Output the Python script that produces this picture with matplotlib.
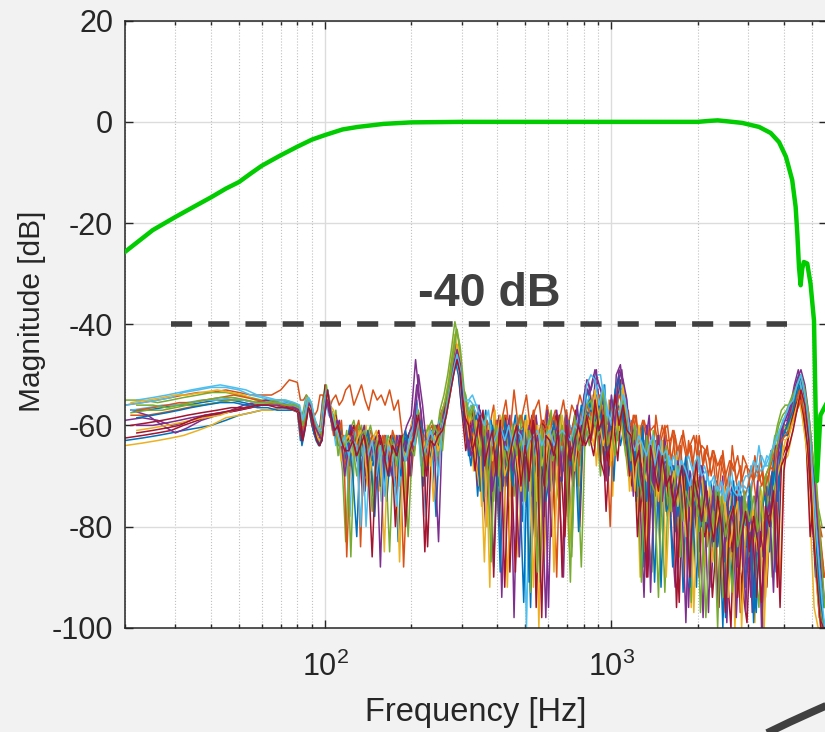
import matplotlib.pyplot as plt
from matplotlib.lines import Line2D
from matplotlib.ticker import LogLocator, NullFormatter

# frequency grids of the measured spectra [Hz] (three runs, bins slightly offset)
freq_a = [
    20, 23, 26, 29, 32, 36, 40, 45, 50, 55,
    60, 65, 70, 75, 80, 82, 84, 86, 88, 90,
    92, 94, 96, 98, 100, 103, 106, 109, 112, 115,
    118, 122, 126, 130, 134, 138, 142, 147, 152, 157,
    162, 168, 174, 180, 186, 193, 200, 207, 214, 221,
    228, 236, 244, 252, 260, 268, 276, 284, 292, 300,
    310, 320, 330, 341, 352, 364, 376, 388, 400, 414,
    428, 442, 457, 472, 488, 505, 522, 540, 558, 577,
    596, 616, 637, 658, 680, 703, 727, 751, 776, 802,
    829, 857, 886, 916, 947, 979, 1010, 1040, 1075, 1110,
    1145, 1180, 1220, 1260, 1300, 1340, 1385, 1430, 1475, 1520,
    1570, 1620, 1670, 1725, 1780, 1840, 1900, 1960, 2025, 2090,
    2160, 2230, 2300, 2375, 2450, 2530, 2615, 2700, 2790, 2880,
    2975, 3070, 3170, 3275, 3380, 3490, 3605, 3720, 3840, 3965,
    4090, 4220, 4355, 4495, 4640, 4790, 4945, 5105, 5270, 5440,
]
freq_b = [
    21, 24, 27, 30, 33, 37, 42, 47, 52, 57,
    62, 67, 72, 77, 81, 83, 85, 87, 89, 91,
    93, 95, 97, 99, 101, 104, 107, 110, 113, 116,
    119, 123, 127, 131, 135, 139, 144, 149, 154, 159,
    164, 170, 176, 182, 188, 195, 202, 209, 216, 223,
    231, 239, 247, 255, 263, 271, 279, 287, 295, 303,
    313, 323, 334, 345, 356, 368, 380, 392, 405, 419,
    433, 447, 462, 477, 494, 511, 528, 546, 564, 583,
    603, 623, 644, 665, 688, 711, 735, 759, 785, 811,
    838, 867, 896, 926, 958, 990, 1020, 1052, 1087, 1122,
    1157, 1193, 1233, 1273, 1313, 1355, 1400, 1445, 1490, 1537,
    1587, 1637, 1688, 1743, 1800, 1860, 1920, 1982, 2047, 2113,
    2183, 2253, 2325, 2400, 2477, 2558, 2643, 2730, 2820, 2912,
    3007, 3103, 3205, 3310, 3417, 3528, 3643, 3760, 3882, 4006,
    4133, 4265, 4402, 4543, 4690, 4841, 4998, 5160, 5327, 5500,
]
freq_c = [
    22, 25, 28, 31, 34, 38, 43, 48, 53, 58,
    63, 68, 73, 78, 81.5, 83.5, 85.5, 87.5, 89.5, 91.5,
    93.5, 95.5, 97.5, 99.5, 102, 105, 108, 111, 114, 117,
    121, 125, 129, 133, 137, 141, 146, 151, 156, 161,
    166, 172, 178, 184, 191, 198, 205, 212, 219, 226,
    233, 241, 249, 257, 265, 273, 281, 289, 297, 306,
    317, 327, 337, 348, 360, 372, 384, 396, 409, 424,
    438, 452, 467, 483, 500, 516, 534, 552, 571, 590,
    609, 630, 651, 673, 696, 719, 743, 768, 794, 820,
    848, 876, 906, 937, 968, 1000, 1030, 1063, 1098, 1133,
    1169, 1207, 1247, 1287, 1327, 1370, 1415, 1460, 1505, 1553,
    1603, 1653, 1707, 1762, 1820, 1880, 1940, 2003, 2068, 2137,
    2207, 2277, 2350, 2425, 2503, 2587, 2672, 2760, 2850, 2943,
    3038, 3137, 3240, 3345, 3453, 3567, 3682, 3800, 3923, 4048,
    4177, 4310, 4448, 4592, 4740, 4894, 5050, 5215, 5385, 5560,
]

# crosstalk magnitudes [dB], one list per measured channel
meas_01 = [
    -63, -62.5, -62, -61.5, -61, -60.5, -60, -59, -58, -57.5,
    -57, -57, -56.5, -56.5, -57, -63, -60, -56, -57, -60,
    -62, -63, -62, -57, -53, -56, -60, -59, -64, -62,
    -65, -60, -62, -66, -62, -70, -64, -68, -63, -72,
    -65, -70, -63, -83, -64, -62, -66, -60, -63, -72,
    -64, -62, -78, -60, -57, -54, -50, -47, -50, -57,
    -58, -66, -61, -74, -63, -57, -70, -88, -64, -60,
    -72, -61, -67, -59, -79, -65, -96, -62, -70, -66,
    -60, -73, -64, -58, -69, -62, -84, -59, -65, -56,
    -53, -61, -57, -66, -52, -70, -58, -55, -64, -60,
    -68, -59, -75, -64, -88, -62, -72, -66, -80, -63,
    -74, -66, -81, -70, -93, -68, -77, -72, -85, -69,
    -80, -71, -88, -76, -100, -73, -82, -78, -90, -74,
    -84, -75, -96, -79, -86, -72, -80, -66, -73, -62,
    -62, -58, -55, -53, -56, -62, -72, -80, -88, -95,
]
meas_02 = [
    -56, -55.5, -55, -54.5, -54, -53.5, -53.5, -53, -53.5, -54,
    -54, -54, -53, -51, -51.5, -55, -55, -54, -55, -57,
    -58, -57, -54, -54, -55, -57, -55, -54, -56, -55,
    -53, -52, -56, -54, -52, -55, -57, -53, -55, -54,
    -56, -53, -57, -55, -62, -64, -60, -56, -58, -66,
    -62, -60, -63, -58, -56, -53, -49, -45, -49, -55,
    -57, -59, -56, -62, -58, -64, -60, -56, -66, -59,
    -55, -62, -53, -60, -58, -54, -61, -57, -55, -62,
    -56, -60, -57, -59, -55, -61, -56, -58, -54, -57,
    -55, -57, -56, -54, -57, -59, -56, -55, -57, -58,
    -57, -63, -58, -66, -59, -62, -70, -58, -64, -61,
    -60, -67, -62, -71, -61, -66, -64, -73, -62, -68,
    -64, -70, -66, -74, -65, -72, -67, -69, -75, -66,
    -68, -74, -66, -71, -69, -76, -65, -67, -62, -60,
    -60, -58, -56, -54, -57, -60, -66, -72, -78, -82,
]
meas_03 = [
    -64, -63.5, -63, -62.5, -62, -61, -60, -58.5, -58, -57.5,
    -57, -57, -56.5, -56.5, -57, -62, -60, -55.5, -56.5, -60,
    -61, -62, -61, -56, -53, -57, -58, -62, -60, -66,
    -70, -62, -60, -65, -68, -63, -71, -65, -69, -64,
    -66, -63, -68, -62, -65, -76, -62, -57, -61, -70,
    -60, -64, -62, -59, -56, -52, -47, -42, -46, -54,
    -63, -57, -69, -60, -76, -62, -92, -58, -67, -71,
    -60, -74, -63, -86, -66, -58, -72, -64, -100, -61,
    -67, -59, -78, -63, -61, -75, -66, -57, -72, -55,
    -60, -54, -68, -57, -63, -55, -74, -52, -59, -64,
    -61, -73, -66, -90, -63, -78, -65, -70, -84, -67,
    -69, -78, -65, -86, -73, -70, -96, -67, -80, -74,
    -76, -83, -72, -95, -78, -86, -74, -100, -79, -84,
    -88, -77, -99, -74, -82, -79, -70, -85, -68, -64,
    -65, -60, -57, -54, -58, -64, -78, -96, -100, -100,
]
meas_04 = [
    -59, -58.5, -59, -60, -59.5, -58.5, -58, -57.5, -57, -56.5,
    -56, -55.5, -55.5, -56, -56.5, -61, -59, -55, -56, -59,
    -60, -61, -60, -55, -53, -55, -58, -61, -59, -63,
    -62, -68, -61, -60, -66, -64, -62, -74, -66, -63,
    -63, -66, -64, -66, -63, -60, -58, -47, -55, -63,
    -66, -61, -60, -62, -58, -54, -48, -44, -47, -56,
    -60, -64, -58, -72, -66, -80, -61, -69, -59, -94,
    -66, -58, -98, -63, -75, -60, -68, -82, -62, -71,
    -57, -69, -62, -74, -90, -60, -66, -58, -63, -54,
    -51, -57, -49, -62, -67, -58, -64, -50, -48, -56,
    -62, -70, -60, -76, -94, -65, -71, -63, -79, -68,
    -66, -80, -92, -71, -75, -68, -84, -72, -78, -98,
    -73, -92, -77, -82, -70, -99, -76, -85, -72, -88,
    -81, -94, -74, -86, -100, -76, -71, -80, -64, -60,
    -60, -56, -52, -49, -53, -60, -68, -76, -85, -92,
]
meas_05 = [
    -55, -55, -55.5, -55, -54.5, -54, -53.5, -53.5, -54, -54.5,
    -55, -55, -55.5, -55.5, -56, -59, -57, -54, -55, -58,
    -59, -60, -61, -56, -52, -56, -61, -57, -63, -69,
    -83, -61, -59, -63, -60, -66, -63, -62, -70, -66,
    -64, -85, -62, -64, -70, -63, -61, -58, -64, -61,
    -61, -59, -63, -57, -54, -50, -45, -39.5, -43, -52,
    -54, -59, -56, -63, -70, -58, -66, -75, -61, -64,
    -68, -60, -74, -64, -58, -71, -93, -62, -78, -66,
    -63, -57, -70, -76, -60, -66, -86, -61, -68, -59,
    -62, -56, -60, -70, -55, -65, -59, -61, -57, -63,
    -70, -64, -60, -73, -67, -80, -89, -66, -74, -69,
    -76, -71, -68, -83, -72, -78, -95, -73, -81, -70,
    -84, -76, -80, -73, -94, -79, -86, -75, -91, -77,
    -79, -72, -87, -96, -76, -70, -74, -64, -60, -58,
    -57, -55, -53, -51, -52, -57, -64, -70, -76, -80,
]
meas_06 = [
    -56, -55.5, -55, -54.5, -53.5, -53, -52.5, -52.5, -53, -54,
    -54.5, -55, -55, -55.5, -56, -60, -58, -54.5, -55.5, -58.5,
    -60, -61, -62, -57, -54, -58, -59, -64, -61, -64,
    -64, -78, -63, -61, -64, -62, -68, -64, -62, -75,
    -68, -63, -66, -62, -64, -67, -63, -56, -62, -78,
    -63, -66, -61, -59, -57, -53, -49, -46, -48, -55,
    -57, -55, -56, -56, -58, -62, -59, -61, -75, -62,
    -63, -61, -66, -63, -62, -100, -62, -66, -61, -63,
    -64, -61, -60, -62, -63, -59, -61, -63, -58, -56,
    -55, -52, -50, -50, -56, -59, -55, -57, -53, -56,
    -61, -67, -60, -70, -63, -74, -64, -69, -62, -72,
    -66, -73, -68, -64, -76, -67, -72, -70, -65, -78,
    -69, -75, -70, -78, -72, -80, -68, -74, -71, -77,
    -73, -68, -70, -64, -69, -66, -67, -62, -63, -59,
    -58, -57, -54, -50, -53, -61, -70, -78, -90, -98,
]
meas_07 = [
    -62.5, -62, -61.5, -61, -60, -59, -58, -57.5, -57, -56.5,
    -56, -56, -56, -56.5, -57, -62, -60, -56, -57, -60,
    -62, -63, -64, -58, -52, -57, -60, -58, -62, -65,
    -66, -62, -60, -68, -63, -73, -62, -66, -64, -68,
    -62, -67, -72, -65, -62, -64, -70, -59, -60, -65,
    -84, -62, -64, -60, -58, -55, -50, -46, -49, -57,
    -65, -60, -57, -71, -62, -74, -59, -90, -66, -68,
    -58, -89, -63, -70, -61, -76, -60, -67, -73, -59,
    -62, -82, -66, -58, -63, -78, -61, -57, -80, -56,
    -58, -62, -54, -67, -70, -59, -63, -57, -51, -62,
    -66, -72, -64, -77, -69, -90, -68, -74, -65, -71,
    -78, -70, -75, -95, -68, -80, -72, -76, -90, -73,
    -82, -75, -84, -96, -77, -88, -100, -74, -86, -93,
    -99, -80, -77, -85, -79, -92, -75, -72, -70, -66,
    -64, -60, -56, -52, -55, -63, -82, -74, -86, -100,
]
meas_08 = [
    -57, -57, -56.5, -56, -56, -55.5, -55, -55, -55.5, -56,
    -56, -56, -56.5, -57, -57.5, -64, -61, -56.5, -57.5, -61,
    -63, -64, -63, -58, -53, -56, -59, -62, -60, -63,
    -63, -60, -64, -62, -70, -62, -65, -78, -63, -65,
    -75, -64, -63, -68, -65, -62, -60, -55, -66, -63,
    -62, -63, -60, -61, -57, -53, -49, -47, -51, -58,
    -62, -68, -60, -57, -75, -63, -59, -66, -72, -61,
    -70, -63, -58, -69, -95, -61, -74, -59, -66, -78,
    -67, -60, -58, -71, -64, -59, -70, -62, -56, -63,
    -55, -59, -62, -53, -66, -60, -71, -56, -58, -54,
    -71, -63, -74, -60, -69, -67, -76, -62, -92, -70,
    -72, -88, -74, -69, -79, -71, -76, -92, -68, -81,
    -77, -84, -71, -80, -87, -76, -92, -82, -73, -85,
    -78, -88, -97, -75, -83, -74, -69, -89, -66, -61,
    -62, -60, -55, -52, -57, -64, -74, -90, -82, -96,
]
meas_09 = [
    -58, -58, -57.5, -57, -56.5, -56, -55.5, -55, -55, -55.5,
    -55.5, -55.5, -56, -56, -56.5, -61, -59, -55, -56, -59,
    -60, -61, -61, -56, -54, -57, -62, -60, -65, -62,
    -86, -64, -62, -59, -64, -67, -61, -63, -66, -62,
    -64, -62, -70, -63, -88, -66, -62, -57, -63, -67,
    -65, -60, -68, -58, -56, -52, -48, -44, -48, -54,
    -62, -58, -66, -61, -60, -59, -66, -62, -60, -64,
    -62, -59, -64, -61, -60, -65, -62, -59, -66, -61,
    -60, -63, -90, -60, -62, -64, -60, -72, -62, -59,
    -61, -59, -55, -57, -60, -80, -58, -57, -56, -60,
    -64, -58, -67, -61, -70, -60, -66, -63, -72, -60,
    -66, -61, -70, -64, -74, -63, -68, -62, -71, -65,
    -70, -65, -73, -67, -70, -76, -64, -71, -68, -74,
    -72, -68, -75, -66, -73, -70, -67, -64, -66, -61,
    -60, -57, -55, -53, -56, -62, -70, -76, -80, -88,
]
meas_10 = [
    -55.5, -55, -54.5, -54, -54, -53.5, -53, -53.5, -54, -55,
    -55.5, -56, -56, -56, -56.5, -60, -58, -54.5, -55.5, -58,
    -60, -61, -60, -55, -53, -56, -57, -60, -62, -67,
    -62, -65, -66, -61, -62, -60, -69, -62, -73, -64,
    -66, -68, -62, -87, -63, -64, -59, -58, -62, -64,
    -61, -75, -62, -60, -57, -54, -49, -45, -47, -55,
    -61, -58, -66, -72, -59, -80, -64, -57, -70, -62,
    -92, -66, -60, -71, -64, -59, -68, -75, -61, -87,
    -60, -64, -59, -70, -62, -84, -67, -60, -63, -61,
    -59, -64, -58, -56, -63, -68, -55, -62, -53, -60,
    -73, -62, -68, -65, -85, -71, -63, -76, -66, -74,
    -70, -77, -66, -75, -90, -73, -79, -69, -77, -88,
    -79, -87, -75, -82, -72, -94, -81, -78, -89, -74,
    -83, -76, -90, -79, -100, -77, -73, -71, -91, -67,
    -66, -62, -58, -55, -60, -66, -75, -84, -98, -100,
]
meas_11 = [
    -57, -58, -60, -61.5, -60.5, -59, -58, -57, -56, -55.5,
    -55, -55.5, -55.5, -56, -56.5, -62, -59.5, -55.5, -56.5, -59.5,
    -61, -62, -62, -57, -54, -58, -61, -59, -61, -64,
    -67, -60, -63, -65, -61, -65, -63, -67, -62, -70,
    -63, -64, -66, -62, -67, -62, -60, -52, -57, -66,
    -63, -62, -61, -59, -56, -52, -47, -44.5, -48, -56,
    -59, -66, -63, -56, -69, -60, -74, -65, -58, -72,
    -61, -65, -70, -86, -60, -73, -64, -58, -69, -63,
    -96, -63, -57, -68, -61, -65, -72, -56, -64, -52,
    -54, -50, -53, -58, -71, -55, -62, -52, -49, -57,
    -59, -74, -61, -69, -64, -58, -73, -67, -78, -62,
    -76, -68, -79, -72, -70, -96, -74, -80, -68, -75,
    -97, -73, -82, -78, -86, -75, -72, -98, -80, -91,
    -74, -97, -82, -84, -73, -77, -70, -64, -66, -59,
    -59, -56, -53, -50, -54, -58, -66, -74, -82, -90,
]
meas_12 = [
    -57.5, -57, -57, -56.5, -56, -56, -55.5, -55, -55, -55.5,
    -55.5, -55, -55, -55.5, -56, -60, -58, -55, -56, -59,
    -60, -61, -61, -56, -52, -57, -58, -63, -60, -65,
    -61, -86, -62, -60, -66, -63, -60, -64, -68, -63,
    -70, -63, -64, -66, -62, -82, -63, -57, -64, -62,
    -60, -64, -66, -58, -55, -51, -46, -41, -44, -53,
    -56, -58, -61, -66, -60, -64, -87, -62, -68, -58,
    -63, -71, -62, -58, -66, -61, -73, -60, -91, -64,
    -59, -67, -64, -58, -70, -61, -63, -66, -88, -60,
    -64, -58, -62, -60, -65, -56, -61, -63, -59, -66,
    -62, -66, -70, -91, -64, -75, -61, -68, -72, -93,
    -68, -77, -73, -86, -70, -82, -75, -71, -97, -78,
    -75, -80, -72, -86, -78, -83, -93, -77, -85, -73,
    -86, -80, -83, -72, -79, -74, -90, -65, -61, -60,
    -61, -58, -54, -51, -55, -60, -70, -82, -94, -100,
]
meas_13 = [
    -57, -56.5, -56, -56, -55.5, -55, -55, -54.5, -55, -55.5,
    -55.5, -55.5, -55.5, -56, -56.5, -61, -59, -55, -56, -59,
    -61, -62, -61, -56, -53, -56, -60, -61, -66, -63,
    -68, -63, -61, -64, -62, -80, -64, -62, -65, -67,
    -62, -66, -63, -72, -64, -63, -61, -56, -68, -65,
    -62, -61, -62, -60, -58, -54, -50, -47, -50, -57,
    -58, -56, -57, -59, -61, -64, -60, -66, -62, -63,
    -65, -61, -62, -64, -61, -63, -62, -65, -62, -64,
    -63, -60, -61, -65, -61, -62, -66, -59, -60, -54,
    -58, -55, -52, -53, -58, -57, -60, -55, -52, -55,
    -62, -66, -64, -63, -67, -64, -62, -66, -65, -67,
    -66, -69, -67, -70, -68, -66, -69, -67, -70, -68,
    -71, -74, -72, -73, -75, -72, -74, -72, -74, -72,
    -73, -71, -70, -69, -68, -68, -65, -63, -61, -59,
    -57, -55, -53, -51, -55, -62, -72, -80, -86, -94,
]
meas_14 = [
    -60, -59.5, -59, -58.5, -58, -57.5, -57, -56.5, -56.5, -56,
    -56, -56, -56, -56.5, -57, -63, -60.5, -56, -57, -60,
    -62, -63, -62, -57, -54, -57, -59, -60, -62, -66,
    -64, -61, -65, -62, -74, -62, -66, -63, -61, -68,
    -65, -62, -80, -63, -66, -62, -64, -58, -62, -85,
    -64, -63, -60, -61, -57, -53, -49, -46, -49, -56,
    -64, -60, -69, -62, -57, -70, -66, -61, -80, -63,
    -60, -67, -89, -64, -70, -62, -58, -96, -66, -72,
    -65, -61, -58, -67, -82, -62, -70, -66, -60, -64,
    -62, -66, -59, -57, -77, -63, -60, -67, -56, -61,
    -70, -61, -82, -68, -66, -73, -77, -64, -71, -69,
    -74, -70, -96, -75, -68, -79, -74, -67, -78, -82,
    -79, -94, -83, -75, -81, -78, -85, -73, -97, -84,
    -84, -79, -94, -81, -86, -78, -77, -72, -96, -69,
    -63, -59, -56, -54, -58, -64, -76, -88, -98, -100,
]
meas_15 = [
    -58.5, -58, -57.5, -57, -56.5, -56, -55.5, -55.5, -56, -56.5,
    -56.5, -57, -57, -57, -57.5, -62, -59, -56, -57, -60,
    -62, -64, -63, -58, -54, -58, -61, -64, -61, -67,
    -63, -70, -82, -62, -65, -61, -67, -63, -72, -66,
    -67, -62, -65, -70, -61, -66, -64, -58, -61, -69,
    -66, -63, -64, -62, -58, -54, -50, -46, -49, -56,
    -66, -61, -58, -73, -62, -68, -60, -64, -89, -59,
    -63, -72, -60, -65, -58, -91, -67, -70, -62, -75,
    -70, -59, -65, -62, -57, -68, -60, -81, -63, -58,
    -57, -60, -55, -63, -65, -61, -53, -50, -59, -63,
    -69, -65, -72, -60, -75, -67, -91, -70, -63, -77,
    -75, -68, -78, -72, -66, -92, -76, -73, -80, -71,
    -81, -74, -84, -77, -98, -80, -71, -86, -78, -92,
    -72, -99, -82, -76, -74, -85, -67, -75, -63, -61,
    -59, -57, -53, -50, -54, -61, -70, -85, -95, -100,
]
meas_16 = [
    -57, -56.5, -56, -55.5, -55.5, -55, -54.5, -54, -54.5, -55,
    -55.5, -56, -56, -56.5, -57, -61, -59, -55.5, -56.5, -59,
    -61, -62, -62, -57, -53, -57, -60, -63, -59, -68,
    -65, -62, -60, -84, -63, -66, -62, -64, -67, -62,
    -68, -61, -64, -63, -78, -62, -65, -60, -62, -68,
    -62, -67, -60, -63, -57, -53, -48, -45, -48, -55,
    -60, -62, -61, -58, -62, -60, -70, -59, -64, -58,
    -59, -63, -60, -58, -61, -62, -57, -63, -59, -60,
    -61, -58, -62, -64, -57, -62, -59, -61, -57, -56,
    -58, -56, -54, -58, -61, -62, -57, -54, -56, -59,
    -60, -58, -62, -59, -63, -61, -60, -64, -60, -63,
    -63, -61, -65, -62, -66, -64, -62, -67, -64, -65,
    -67, -65, -68, -66, -70, -67, -69, -66, -71, -68,
    -69, -71, -68, -72, -70, -68, -69, -65, -63, -62,
    -61, -59, -57, -55, -58, -62, -68, -75, -84, -90,
]
meas_17 = [
    -61, -60.5, -60, -59.5, -59, -58.5, -58, -57, -56.5, -56,
    -56, -56, -56.5, -57, -57.5, -62, -60, -56, -57, -60,
    -62, -63, -62, -57, -54, -57, -59, -62, -67, -63,
    -62, -66, -63, -61, -64, -72, -63, -61, -66, -85,
    -63, -67, -62, -64, -66, -63, -62, -59, -65, -62,
    -68, -62, -65, -61, -58, -54, -49, -44, -47, -55,
    -62, -65, -59, -64, -87, -60, -67, -63, -58, -70,
    -67, -61, -66, -73, -59, -65, -92, -60, -68, -64,
    -60, -89, -63, -58, -66, -62, -69, -61, -64, -58,
    -61, -53, -59, -64, -60, -67, -55, -61, -52, -60,
    -62, -73, -60, -68, -71, -64, -66, -75, -63, -90,
    -73, -69, -76, -70, -82, -71, -97, -74, -70, -79,
    -72, -82, -78, -74, -76, -84, -79, -75, -100, -80,
    -81, -77, -85, -73, -94, -80, -76, -70, -67, -63,
    -62, -59, -56, -53, -56, -63, -74, -92, -100, -100,
]
meas_18 = [
    -60, -60, -59.5, -59, -58.5, -58, -57.5, -57, -56.5, -56,
    -56, -56, -56.5, -56.5, -57, -62, -60, -55.5, -56.5, -60,
    -61, -62, -63, -58, -55, -58, -62, -60, -63, -70,
    -64, -62, -67, -63, -60, -68, -64, -63, -88, -64,
    -66, -70, -62, -65, -63, -70, -60, -50, -56, -64,
    -62, -65, -83, -60, -57, -53, -48, -45, -48, -57,
    -65, -59, -63, -57, -66, -61, -73, -68, -60, -64,
    -59, -69, -63, -61, -72, -60, -66, -62, -71, -98,
    -66, -62, -60, -71, -58, -64, -66, -59, -62, -51,
    -53, -49, -52, -55, -63, -54, -60, -49, -51, -55,
    -66, -63, -69, -73, -60, -93, -70, -62, -75, -68,
    -71, -78, -67, -74, -99, -69, -73, -77, -68, -73,
    -80, -72, -96, -76, -83, -77, -79, -88, -74, -97,
    -77, -82, -71, -100, -80, -75, -93, -67, -61, -59,
    -57, -54, -51, -49, -52, -58, -66, -78, -88, -95,
]
meas_19 = [
    -56, -56, -56.5, -56, -55.5, -55, -54.5, -54.5, -55, -55.5,
    -55.5, -55.5, -56, -56, -56.5, -60, -58, -54.5, -55.5, -58.5,
    -60, -61, -62, -57, -53, -57, -59, -66, -62, -64,
    -63, -64, -70, -62, -61, -64, -77, -63, -66, -65,
    -62, -64, -68, -63, -67, -64, -66, -57, -70, -63,
    -64, -60, -62, -65, -56, -51, -46, -41, -45, -53,
    -58, -56, -62, -66, -59, -71, -63, -60, -73, -65,
    -69, -60, -66, -63, -75, -61, -64, -89, -60, -72,
    -64, -61, -68, -60, -66, -91, -58, -65, -61, -56,
    -55, -60, -58, -53, -64, -61, -66, -59, -55, -60,
    -67, -60, -70, -75, -62, -71, -73, -94, -68, -64,
    -77, -72, -68, -79, -73, -76, -70, -78, -74, -98,
    -83, -77, -100, -74, -82, -78, -76, -84, -80, -75,
    -79, -74, -81, -77, -70, -68, -64, -60, -57, -56,
    -56, -54, -52, -50, -53, -58, -66, -72, -84, -96,
]
meas_20 = [
    -55, -54.5, -54, -53.5, -53, -52.5, -52, -52.5, -53, -54,
    -54.5, -55, -55, -55.5, -56, -59, -57.5, -54.5, -55.5, -58,
    -60, -61, -61, -56, -53, -57, -60, -62, -64, -62,
    -66, -63, -64, -80, -64, -66, -63, -70, -64, -74,
    -64, -66, -76, -64, -67, -62, -64, -58, -66, -64,
    -61, -63, -70, -60, -57, -53, -49, -46, -49, -55,
    -55, -54, -56, -58, -60, -57, -64, -62, -60, -63,
    -60, -64, -61, -62, -66, -63, -62, -61, -64, -62,
    -61, -64, -62, -61, -62, -63, -60, -61, -58, -52,
    -50, -51, -56, -52, -57, -60, -56, -58, -54, -57,
    -63, -65, -62, -64, -66, -63, -68, -64, -66, -65,
    -68, -66, -70, -67, -69, -72, -68, -66, -70, -69,
    -72, -70, -73, -71, -75, -70, -73, -74, -72, -70,
    -70, -67, -69, -66, -68, -66, -64, -62, -60, -58,
    -56, -55, -52, -50, -54, -60, -70, -82, -92, -100,
]
meas_21 = [
    -61.5, -61, -60.5, -60, -59, -58, -57.5, -57, -56.5, -56,
    -56, -56.5, -56.5, -57, -57.5, -63, -60, -56.5, -57.5, -60.5,
    -63, -64, -63, -58, -53, -58, -61, -60, -63, -65,
    -65, -63, -66, -64, -62, -67, -86, -65, -62, -66,
    -70, -64, -66, -62, -80, -65, -62, -58, -64, -70,
    -63, -64, -62, -61, -58, -54, -50, -47, -50, -58,
    -60, -65, -62, -58, -68, -64, -61, -70, -59, -92,
    -67, -63, -60, -72, -64, -71, -59, -66, -98, -62,
    -63, -66, -61, -90, -60, -67, -63, -60, -64, -58,
    -63, -55, -61, -58, -67, -62, -54, -60, -56, -61,
    -62, -68, -65, -71, -90, -64, -69, -73, -66, -72,
    -70, -76, -73, -68, -77, -90, -70, -74, -79, -72,
    -78, -83, -74, -80, -97, -79, -76, -94, -82, -77,
    -85, -78, -83, -95, -76, -80, -73, -92, -68, -66,
    -64, -61, -57, -53, -56, -63, -80, -90, -100, -100,
]

# wanted channel, thick green
ref_freq = [20, 25, 30, 35, 40, 45, 50, 55, 60, 65, 70, 80, 90, 100, 115,
            130, 160, 200, 300, 1000, 2000, 2200, 2350, 2550, 2860, 3280,
            3600, 3850, 4070, 4280, 4400, 4460, 4520, 4580, 4640, 4700, 4830,
            4960, 5100, 5160, 5220, 5370, 5600]
ref_mag = [-25.7, -21.4, -18.8, -16.7, -14.9, -13.2, -11.9, -10.2, -8.7, -7.6,
           -6.6, -4.9, -3.5, -2.6, -1.5, -1.0, -0.4, -0.1, 0, 0, 0, 0.2, 0.3,
           0.1, -0.2, -1.0, -2.2, -4.0, -6.9, -11.5, -16.8, -22.1, -28.7,
           -32.3, -29, -27.7, -28, -32, -39.3, -55, -71, -58, -56]

limit_db = -40
limit_band = [29, 4100]

matlab_colors = ['#0072BD', '#D95319', '#EDB120', '#7E2F8E',
                 '#77AC30', '#4DBEEE', '#A2142F']


def main():
    plt.rcParams['font.family'] = ['Liberation Sans', 'DejaVu Sans']
    plt.rcParams['mathtext.default'] = 'regular'
    plt.rcParams['axes.unicode_minus'] = False

    fig = plt.figure(figsize=(8.25, 7.32), dpi=100, facecolor='#f2f2f2')
    ax = fig.add_axes([0.1515, 0.1425, 0.8506, 0.8292])
    ax.set_facecolor('white')

    ax.plot(limit_band, [limit_db, limit_db], color='#404040', lw=4,
            dashes=(3.8, 2.9), zorder=2)

    noise = [meas_01, meas_02, meas_03, meas_04, meas_05, meas_06, meas_07,
             meas_08, meas_09, meas_10, meas_11, meas_12, meas_13, meas_14,
             meas_15, meas_16, meas_17, meas_18, meas_19, meas_20, meas_21]
    grids = [freq_a] * 7 + [freq_b] * 7 + [freq_c] * 7
    for i, m in enumerate(noise):
        ax.plot(grids[i], m, color=matlab_colors[i % 7], lw=1.1, zorder=2)

    ax.plot(ref_freq, ref_mag, color='#00cc00', lw=3.2, zorder=3,
            solid_joinstyle='round')

    ax.text(374, -36.5, '-40 dB', ha='center', va='baseline', fontsize=33.6,
            fontweight='bold', color='#404040')

    ax.set_xscale('log')
    ax.set_xlim(20, 5650)
    ax.set_ylim(-100, 20)
    ax.set_yticks(range(-100, 21, 20))
    ax.xaxis.set_major_locator(LogLocator(base=10))
    ax.xaxis.set_minor_locator(LogLocator(base=10, subs=range(2, 10)))
    ax.xaxis.set_minor_formatter(NullFormatter())

    ax.grid(True, which='major', color='#dcdcdc', lw=1.0, zorder=0)
    ax.grid(True, which='minor', axis='x', color='#c0c0c0', lw=0.8,
            linestyle=':', zorder=0)
    ax.set_axisbelow(True)

    ax.tick_params(which='both', direction='in', top=True, right=True,
                   color='#262626', width=1.0)
    ax.tick_params(which='major', length=6, labelsize=22,
                   labelcolor='#262626')
    ax.tick_params(axis='x', which='major', pad=17)
    ax.tick_params(axis='y', which='major', pad=8.5)
    ax.tick_params(which='minor', length=3)
    for s in ax.spines.values():
        s.set_color('#262626')
        s.set_linewidth(1.1)

    ax.set_xlabel('Frequency [Hz]', fontsize=23.5, color='#262626', va='top')
    ax.xaxis.set_label_coords(0.5, -0.1135)
    ax.set_ylabel('Magnitude [dB]', fontsize=21.5, color='#262626')
    ax.yaxis.set_label_coords(-0.113, 0.521)

    # stray arc at the lower right corner of the screenshot
    fig.add_artist(Line2D([765 / 825, 790 / 825, 812 / 825, 830 / 825],
                          [-2 / 732, 10 / 732, 20 / 732, 28 / 732],
                          transform=fig.transFigure, color='#404040', lw=5.5,
                          solid_capstyle='butt'))

    fig.savefig('out.png', dpi=100, facecolor=fig.get_facecolor())


if __name__ == "__main__":
    main()
